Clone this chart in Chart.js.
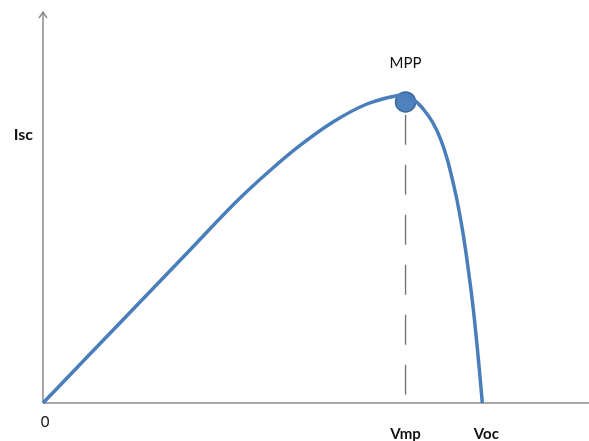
<!DOCTYPE html>
<html lang="en">
<head>
    <meta charset="UTF-8">
    <title>P-V curve</title>
    <style>
        body {
            margin: 0;
            padding: 0;
            background-color: #ffffff;
        }
        #wrap {
            width: 589px;
            height: 441px;
        }
    </style>
    <script src="https://cdn.jsdelivr.net/npm/chart.js"></script>
</head>
<body>
    <div id="wrap">
        <canvas id="pvChart" width="589" height="441"></canvas>
    </div>

    <script>
        // curve (arbitrary units, 0..100 on both axes)
        const voltage = [0, 8.61, 17.77, 26.92, 35.53, 41.58, 47.07, 53.11, 59.34, 64.10, 65.93,
                         67.95, 69.78, 71.43, 72.89, 74.08, 75.00, 75.82, 76.83, 77.66, 78.39, 79.03, 79.58, 80.09, 80.46];
        const power = [0, 12.53, 25.83, 39.13, 51.66, 59.46, 65.86, 71.87, 76.47, 78.39, 78.77,
                       77.49, 74.94, 71.61, 67.26, 62.15, 57.03, 51.92, 44.25, 36.57, 28.90, 21.23, 13.55, 5.88, 0];

        // marked points and labels
        const mpp = { x: 66.4, y: 77 };
        const dashTop = 73.7;
        const xTickValues = [0, 66.4, 81.2];
        const xTickLabels = ['0', 'Vmp', 'Voc'];
        const yTickValues = [68.5];
        const yTickLabels = ['Isc'];

        const curvePoints = voltage.map((v, i) => ({ x: v, y: power[i] }));

        const axesAndLabels = {
            id: 'axesAndLabels',
            beforeDatasetsDraw(chart) {
                const { ctx, chartArea, scales } = chart;
                const x0 = scales.x.getPixelForValue(0);
                const y0 = scales.y.getPixelForValue(0);
                ctx.save();
                ctx.strokeStyle = '#8c8c8c';
                ctx.lineWidth = 1.5;
                ctx.beginPath();
                // y axis with arrow head
                ctx.moveTo(x0, y0);
                ctx.lineTo(x0, chartArea.top);
                ctx.moveTo(x0 - 4, chartArea.top + 6);
                ctx.lineTo(x0, chartArea.top);
                ctx.lineTo(x0 + 4, chartArea.top + 6);
                // x axis
                ctx.moveTo(x0, y0);
                ctx.lineTo(chartArea.right, y0);
                ctx.stroke();
                ctx.restore();
            },
            afterDraw(chart) {
                const { ctx, scales } = chart;
                const y0 = scales.y.getPixelForValue(0);
                ctx.save();
                ctx.fillStyle = '#111111';
                ctx.textBaseline = 'middle';

                // x labels
                xTickLabels.forEach((lab, i) => {
                    const px = scales.x.getPixelForValue(xTickValues[i]);
                    ctx.textAlign = 'center';
                    if (i === 0) {
                        ctx.font = '15px Lato';
                        ctx.fillText(lab, px + 2, y0 + 19);
                    } else {
                        ctx.font = 'bold 15px Lato';
                        ctx.fillText(lab, px, y0 + 31);
                    }
                });

                // y label
                ctx.font = 'bold 16px Lato';
                ctx.textAlign = 'right';
                yTickLabels.forEach((lab, i) => {
                    ctx.fillText(lab, scales.x.getPixelForValue(0) - 10, scales.y.getPixelForValue(yTickValues[i]));
                });

                // MPP label
                ctx.font = '15px Lato';
                ctx.textAlign = 'center';
                ctx.fillText('MPP', scales.x.getPixelForValue(mpp.x), scales.y.getPixelForValue(mpp.y) - 39);
                ctx.restore();
            }
        };

        const ctx = document.getElementById('pvChart').getContext('2d');
        const pvChart = new Chart(ctx, {
            type: 'scatter',
            data: {
                datasets: [
                    {
                        label: 'Vmp line',
                        data: [{ x: mpp.x, y: dashTop }, { x: mpp.x, y: 0 }],
                        showLine: true,
                        borderColor: '#6e6e6e',
                        borderWidth: 1.3,
                        borderDash: [30, 20],
                        pointRadius: 0,
                        clip: false
                    },
                    {
                        label: 'P-V',
                        data: curvePoints,
                        showLine: true,
                        borderColor: '#4a7ebb',
                        borderWidth: 3.5,
                        cubicInterpolationMode: 'monotone',
                        pointRadius: 0,
                        clip: false
                    },
                    {
                        label: 'MPP',
                        data: [mpp],
                        pointRadius: 10,
                        pointBackgroundColor: '#4f81bd',
                        pointBorderColor: '#3a6799',
                        pointBorderWidth: 1.5,
                        clip: false
                    }
                ]
            },
            options: {
                responsive: false,
                animation: false,
                events: [],
                layout: {
                    autoPadding: false,
                    padding: { left: 43, right: 0, top: 12, bottom: 38 }
                },
                plugins: {
                    legend: { display: false },
                    tooltip: { enabled: false }
                },
                scales: {
                    x: { type: 'linear', min: 0, max: 100, display: false },
                    y: { type: 'linear', min: 0, max: 100, display: false }
                }
            },
            plugins: [axesAndLabels]
        });
    </script>
</body>
</html>
